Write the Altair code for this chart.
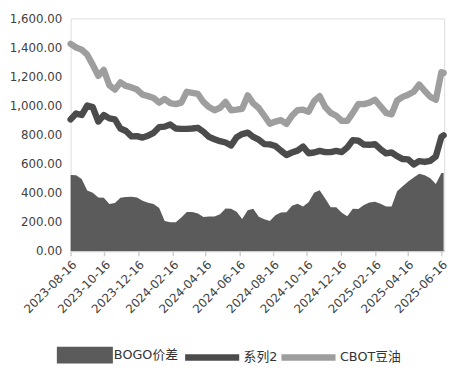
import altair as alt
import pandas as pd

dates = list(pd.date_range("2023-08-16", periods=68, freq="10D").strftime("%Y-%m-%d")) + ["2025-06-20"]

bogo = [522, 520, 495, 415, 400, 368, 365, 322, 330, 366,
        370, 373, 367, 345, 332, 322, 295, 205, 197, 197,
        230, 268, 268, 258, 234, 237, 237, 252, 292, 290,
        270, 220, 280, 290, 235, 217, 205, 245, 264, 265,
        310, 325, 305, 335, 400, 418, 360, 300, 300, 262,
        238, 290, 288, 315, 333, 338, 325, 305, 305, 410,
        445, 478, 505, 530, 520, 500, 460, 536,
        536]

series2 = [905, 945, 935, 1000, 990, 890, 935, 912, 905, 842,
           825, 788, 790, 780, 793, 812, 852, 855, 870, 842,
           840, 840, 842, 847, 820, 785, 768, 755, 746, 725,
           782, 804, 814, 784, 765, 735, 733, 722, 690, 660,
           677, 690, 718, 672, 677, 688, 680, 680, 688, 680,
           712, 762, 758, 732, 730, 734, 700, 671, 677, 652,
           632, 630, 595, 618, 612, 620, 650, 785,
           795]

cbot = [1425, 1400, 1385, 1350, 1280, 1205, 1245, 1140, 1110, 1160,
        1135, 1125, 1110, 1075, 1065, 1052, 1020, 1045, 1017, 1010,
        1020, 1095, 1088, 1080, 1025, 990, 968, 985, 1025, 968,
        972, 978, 1070, 1015, 983, 930, 875, 890, 900, 874,
        930, 968, 972, 958, 1030, 1065, 990, 950, 930, 895,
        895, 950, 1012, 1010, 1020, 1040, 995, 950, 940, 1035,
        1060, 1075, 1095, 1145, 1100, 1060, 1040, 1230,
        1225]

series_names = ["BOGO价差", "系列2", "CBOT豆油"]
tick_dates = ["2023-08-16", "2023-10-16", "2023-12-16", "2024-02-16", "2024-04-16",
              "2024-06-16", "2024-08-16", "2024-10-16", "2024-12-16", "2025-02-16",
              "2025-04-16", "2025-06-16"]
y_ticks = [0, 200, 400, 600, 800, 1000, 1200, 1400, 1600]

def dt(s):
    y, m, d = map(int, s.split("-"))
    return alt.DateTime(year=y, month=m, date=d, utc=True)

area_df = pd.DataFrame({"date": dates, "value": bogo, "series": series_names[0]})
line_df = pd.concat([
    pd.DataFrame({"date": dates, "value": series2, "series": series_names[1]}),
    pd.DataFrame({"date": dates, "value": cbot, "series": series_names[2]}),
])

FONT = "DejaVu Sans, Noto Sans CJK SC"

x_enc = alt.X("date:T",
              scale=alt.Scale(type="utc", domain=[dt("2023-08-16"), dt("2025-06-21")], nice=False),
              axis=alt.Axis(values=[dt(t) for t in tick_dates], format="%Y-%m-%d", labelAngle=315,
                            labelOverlap=False, labelFlush=False,
                            title=None, grid=False, domainColor="#cfcfcf", domainWidth=2,
                            tickColor="#cfcfcf", tickWidth=1.5, tickSize=5,
                            labelFont=FONT, labelFontSize=12, labelColor="#404040", labelPadding=3))
y_enc = alt.Y("value:Q",
              scale=alt.Scale(domain=[0, 1600], nice=False),
              axis=alt.Axis(values=y_ticks, format=",.2f", title=None, grid=False, domain=False,
                            ticks=False, labelFont=FONT, labelFontSize=12, labelColor="#404040",
                            labelPadding=9, labelOverlap=False, labelFlush=False))

area = alt.Chart(area_df).mark_area(opacity=1).encode(
    x=x_enc, y=y_enc,
    fill=alt.Fill("series:N", scale=alt.Scale(domain=[series_names[0]], range=["#5b5b5b"]),
                  legend=alt.Legend(title=None, orient="none", legendX=-14, legendY=314,
                                    symbolType="M-1,-0.3H1V0.3H-1Z", symbolSize=3249,
                                    symbolOpacity=1, symbolStrokeWidth=0,
                                    labelFont=FONT, labelFontSize=13, labelColor="#333333",
                                    labelOffset=1))
)

lines = alt.Chart(line_df).mark_line(strokeWidth=6.5, strokeJoin="round", strokeCap="round").encode(
    x=x_enc, y=y_enc,
    stroke=alt.Stroke("series:N", scale=alt.Scale(domain=series_names[1:], range=["#4b4b4b", "#9e9e9e"]),
                      legend=alt.Legend(title=None, orient="none", legendX=113, legendY=314,
                                        direction="horizontal", symbolType="stroke", symbolSize=3025,
                                        symbolStrokeWidth=6.5, symbolOpacity=1, columnPadding=-10,
                                        gridAlign="none",
                                        labelFont=FONT, labelFontSize=13, labelColor="#333333",
                                        labelOffset=1)),
    detail="series:N"
)

chart = alt.layer(area, lines).properties(
    width=380, height=236.5,
    autosize=alt.AutoSizeParams(type="none"),
    padding={"left": 63.7, "top": 7.5, "right": 9, "bottom": 112}
).configure_view(stroke=None).configure(background="white")

chart.save("out.html", embed_options={"renderer": "svg", "actions": False})
